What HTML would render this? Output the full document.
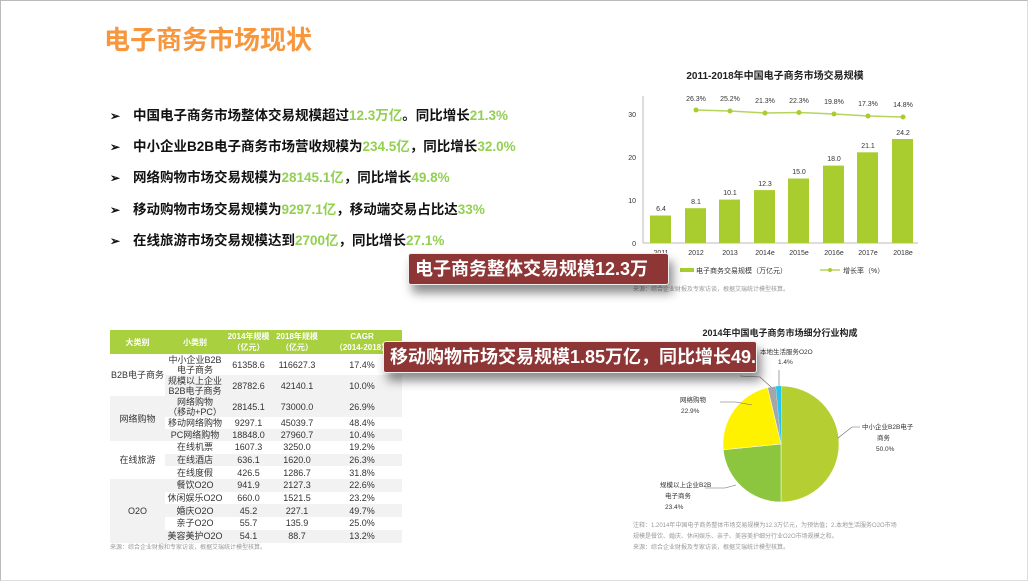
<!DOCTYPE html>
<html><head><meta charset="utf-8"><style>
body{margin:0;width:1028px;height:581px;background:#fff;position:relative;overflow:hidden;font-family:"Liberation Sans","Noto Sans CJK SC",sans-serif}
.frame{position:absolute;left:0;top:0;width:1026px;height:579px;border-left:1px solid #bbb;border-top:1px solid #bbb;border-right:1px solid #ddd;border-bottom:1px solid #ddd}
.title{position:absolute;left:104px;top:20px;font-size:26px;font-weight:bold;color:#f7963c}
.b{position:absolute;left:110px;font-size:13.5px;font-weight:bold;color:#111;white-space:nowrap}
.b span.a{display:inline-block;width:23px;font-size:12px}
.g{color:#92d050}
.lab{position:absolute;background:#8e3535;color:#fff;font-weight:bold;font-size:18px;white-space:nowrap;border-radius:3px;box-shadow:4px 8px 10px rgba(0,0,0,.45);border:1px solid #eee;padding:0 6px;line-height:30px;overflow:hidden}
table{position:absolute;left:110px;top:330px;width:292px;border-collapse:collapse;font-size:9px;color:#333;text-align:center;table-layout:fixed}
th{background:#a9d03f;color:#fff;font-weight:bold;height:24px;line-height:11px;padding:0;font-size:8px;white-space:nowrap;overflow:hidden}
td{padding:0;line-height:10px;white-space:nowrap;overflow:hidden}
tr.s td{background:#f2f2f2}
</style></head><body>
<div class="frame"></div>
<div class="title">电子商务市场现状</div>
<div class="b" style="top:104px"><span class="a">➢</span>中国电子商务市场整体交易规模超过<span class="g">12.3万亿</span>。同比增长<span class="g">21.3%</span></div>
<div class="b" style="top:135px"><span class="a">➢</span>中小企业B2B电子商务市场营收规模为<span class="g">234.5亿</span>，同比增长<span class="g">32.0%</span></div>
<div class="b" style="top:166px"><span class="a">➢</span>网络购物市场交易规模为<span class="g">28145.1亿</span>，同比增长<span class="g">49.8%</span></div>
<div class="b" style="top:198px"><span class="a">➢</span>移动购物市场交易规模为<span class="g">9297.1亿</span>，移动端交易占比达<span class="g">33%</span></div>
<div class="b" style="top:229px"><span class="a">➢</span>在线旅游市场交易规模达到<span class="g">2700亿</span>，同比增长<span class="g">27.1%</span></div>

<svg style="position:absolute;left:0;top:0" width="1028" height="581" font-family="Liberation Sans,Noto Sans CJK SC,sans-serif">
<text x="775" y="79" font-size="10" font-weight="bold" text-anchor="middle" fill="#222">2011-2018年中国电子商务市场交易规模</text>
<line x1="643" y1="96" x2="643" y2="243" stroke="#bbb"/>
<line x1="643" y1="243" x2="918" y2="243" stroke="#bbb"/>
<g font-size="7" fill="#333" text-anchor="end"><text x="636" y="246">0</text><text x="636" y="203">10</text><text x="636" y="160">20</text><text x="636" y="117">30</text></g>
<g fill="#a9cc2f">
<rect x="650" y="215.5" width="21" height="27.5"/><rect x="685" y="208.2" width="21" height="34.8"/><rect x="719" y="199.6" width="21" height="43.4"/><rect x="754" y="190.1" width="21" height="52.9"/><rect x="788" y="178.5" width="21" height="64.5"/><rect x="823" y="165.6" width="21" height="77.4"/><rect x="857" y="152.3" width="21" height="90.7"/><rect x="892" y="139" width="21" height="104"/></g>
<g font-size="7" fill="#333" text-anchor="middle">
<text x="661" y="211">6.4</text><text x="696" y="204">8.1</text><text x="730" y="195">10.1</text><text x="765" y="186">12.3</text><text x="799" y="174">15.0</text><text x="834" y="161">18.0</text><text x="868" y="148">21.1</text><text x="903" y="135">24.2</text>
<text x="661" y="255">2011</text><text x="696" y="255">2012</text><text x="730" y="255">2013</text><text x="765" y="255">2014e</text><text x="799" y="255">2015e</text><text x="834" y="255">2016e</text><text x="868" y="255">2017e</text><text x="903" y="255">2018e</text>
<text x="696" y="101">26.3%</text><text x="730" y="101">25.2%</text><text x="765" y="103">21.3%</text><text x="799" y="103">22.3%</text><text x="834" y="104">19.8%</text><text x="868" y="106">17.3%</text><text x="903" y="107">14.8%</text></g>
<polyline points="696,110 730,111 765,113 799,112.5 834,114 868,116 903,117" fill="none" stroke="#b5d55a" stroke-width="1.5"/>
<g fill="#a9cc2f"><circle cx="696" cy="110" r="2.5"/><circle cx="730" cy="111" r="2.5"/><circle cx="765" cy="113" r="2.5"/><circle cx="799" cy="112.5" r="2.5"/><circle cx="834" cy="114" r="2.5"/><circle cx="868" cy="116" r="2.5"/><circle cx="903" cy="117" r="2.5"/></g>
<rect x="680" y="268" width="14" height="4" fill="#a9cc2f"/>
<text x="696" y="273" font-size="7" fill="#333">电子商务交易规模（万亿元）</text>
<line x1="820" y1="270" x2="840" y2="270" stroke="#b5d55a" stroke-width="1.5"/><circle cx="830" cy="270" r="2" fill="#a9cc2f"/>
<text x="843" y="273" font-size="7" fill="#333">增长率（%）</text>
<text x="633" y="291" font-size="6" fill="#999">来源：综合企业财报及专家访谈，根据艾瑞统计模型核算。</text>

<text x="780" y="336" font-size="9" font-weight="bold" text-anchor="middle" fill="#222">2014年中国电子商务市场细分行业构成</text>
<path d="M781,444 L781,386 A58,58 0 0 1 781,502 Z" fill="#b5cf33" stroke="#fff" stroke-width=".5"/>
<path d="M781,444 L781,502 A58,58 0 0 1 723.3,449.8 Z" fill="#8cc63e" stroke="#fff" stroke-width=".5"/>
<path d="M781,444 L723.3,449.8 A58,58 0 0 1 767.6,387.6 Z" fill="#fff200" stroke="#fff" stroke-width=".5"/>
<path d="M781,444 L767.6,387.6 A58,58 0 0 1 775.9,386.2 Z" fill="#a6a6a6" stroke="#fff" stroke-width=".5"/>
<path d="M781,444 L775.9,386.2 A58,58 0 0 1 781,386 Z" fill="#27c4f0"/>
<g stroke="#666" stroke-width=".6" fill="none"><polyline points="838,438 852,427 860,427"/><polyline points="736,485 725,488 705,488"/><polyline points="752,405 736,402 720,402"/><polyline points="771,387 760,377 740,376"/><polyline points="779,386 779,370"/></g>
<g font-size="6.5" fill="#333">
<text x="862" y="429">中小企业B2B电子</text><text x="877" y="440">商务</text><text x="876" y="451">50.0%</text>
<text x="660" y="487">规模以上企业B2B</text><text x="665" y="498">电子商务</text><text x="665" y="509">23.4%</text>
<text x="680" y="402">网络购物</text><text x="681" y="413">22.9%</text>
<text x="760" y="354">本地生活服务O2O</text><text x="778" y="364">1.4%</text>
</g>
<g font-size="6" fill="#999"><text x="633" y="527">注释：1.2014年中国电子商务整体市场交易规模为12.3万亿元，为预估值；2.本地生活服务O2O市场</text><text x="633" y="538">规模是餐饮、婚庆、休闲娱乐、亲子、美容美护细分行业O2O市场规模之和。</text><text x="633" y="549">来源：综合企业财报及专家访谈，根据艾瑞统计模型核算。</text>
<text x="110" y="549">来源：综合企业财报和专家访谈，根据艾瑞统计模型核算。</text></g>
</svg>

<table>
<colgroup><col style="width:55px"><col style="width:60px"><col style="width:47px"><col style="width:50px"><col style="width:80px"></colgroup>
<tr><th>大类别</th><th>小类别</th><th>2014年规模<br>（亿元）</th><th>2018年规模<br>（亿元）</th><th>CAGR<br>（2014-2018）</th></tr>
<tr style="height:21px"><td rowspan="2">B2B电子商务</td><td>中小企业B2B<br>电子商务</td><td>61358.6</td><td>116627.3</td><td>17.4%</td></tr>
<tr class="s" style="height:21px"><td>规模以上企业<br>B2B电子商务</td><td>28782.6</td><td>42140.1</td><td>10.0%</td></tr>
<tr class="s" style="height:21px"><td rowspan="3" style="background:#f2f2f2">网络购物</td><td>网络购物<br>（移动+PC）</td><td>28145.1</td><td>73000.0</td><td>26.9%</td></tr>
<tr style="height:12px"><td>移动网络购物</td><td>9297.1</td><td>45039.7</td><td>48.4%</td></tr>
<tr class="s" style="height:12px"><td>PC网络购物</td><td>18848.0</td><td>27960.7</td><td>10.4%</td></tr>
<tr style="height:12.7px"><td rowspan="3">在线旅游</td><td>在线机票</td><td>1607.3</td><td>3250.0</td><td>19.2%</td></tr>
<tr class="s" style="height:12.7px"><td>在线酒店</td><td>636.1</td><td>1620.0</td><td>26.3%</td></tr>
<tr style="height:12.7px"><td>在线度假</td><td>426.5</td><td>1286.7</td><td>31.8%</td></tr>
<tr class="s" style="height:12.7px"><td rowspan="5" style="background:#f2f2f2">O2O</td><td>餐饮O2O</td><td>941.9</td><td>2127.3</td><td>22.6%</td></tr>
<tr style="height:12.7px"><td>休闲娱乐O2O</td><td>660.0</td><td>1521.5</td><td>23.2%</td></tr>
<tr class="s" style="height:12.7px"><td>婚庆O2O</td><td>45.2</td><td>227.1</td><td>49.7%</td></tr>
<tr style="height:12.7px"><td>亲子O2O</td><td>55.7</td><td>135.9</td><td>25.0%</td></tr>
<tr class="s" style="height:12.7px"><td>美容美护O2O</td><td>54.1</td><td>88.7</td><td>13.2%</td></tr>
</table>

<div class="lab" style="left:408px;top:253px;width:247px">电子商务整体交易规模12.3万</div>
<div class="lab" style="left:383px;top:341px;width:360px">移动购物市场交易规模1.85万亿，同比增长49.8%</div>
</body></html>
